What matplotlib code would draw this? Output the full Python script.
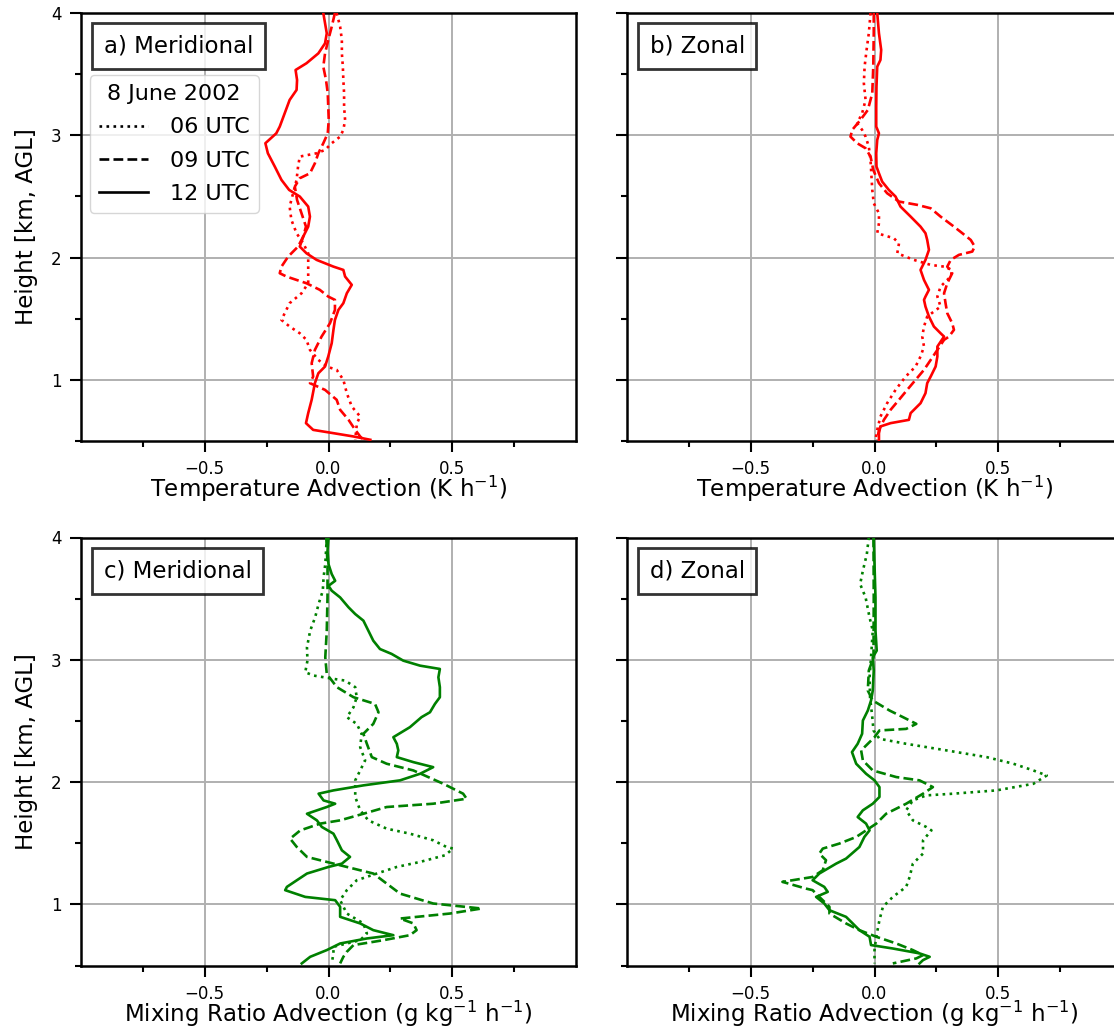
import matplotlib
matplotlib.use("Agg")
import matplotlib.pyplot as plt
from matplotlib.lines import Line2D

# ---------------------------------------------------------------------------
# Profiles of horizontal advection, 8 June 2002 (height in km AGL)
# ---------------------------------------------------------------------------

# a) Meridional temperature advection (K h-1)
ta_mer_06_z = [4.000, 3.888, 3.779, 3.670, 3.561, 3.452, 3.343, 3.234, 3.125, 3.044,
               2.989, 2.935, 2.880, 2.853, 2.826, 2.744, 2.635, 2.526, 2.417, 2.308,
               2.199, 2.117, 2.035, 1.926, 1.790, 1.708, 1.627, 1.545, 1.490, 1.436,
               1.381, 1.327, 1.245, 1.163, 1.109, 1.082, 1.000, 0.891, 0.782, 0.700,
               0.646, 0.591, 0.510]
ta_mer_06_v = [0.033, 0.047, 0.054, 0.054, 0.058, 0.060, 0.063, 0.063, 0.067, 0.060,
               0.047, 0.013, -0.014, -0.048, -0.116, -0.123, -0.129, -0.143, -0.157, -0.150,
               -0.129, -0.102, -0.082, -0.082, -0.082, -0.109, -0.157, -0.177, -0.190, -0.157,
               -0.116, -0.089, -0.075, -0.041, -0.007, 0.033, 0.060, 0.074, 0.094, 0.128,
               0.115, 0.112, 0.108]

ta_mer_09_z = [4.000, 3.888, 3.779, 3.670, 3.561, 3.452, 3.343, 3.234, 3.125, 3.016,
               2.935, 2.853, 2.771, 2.689, 2.649, 2.580, 2.471, 2.362, 2.253, 2.172,
               2.090, 2.008, 1.926, 1.872, 1.845, 1.790, 1.736, 1.681, 1.654, 1.572,
               1.463, 1.354, 1.245, 1.136, 1.027, 0.973, 0.918, 0.837, 0.755, 0.673,
               0.591, 0.537, 0.510]
ta_mer_09_v = [0.026, 0.013, -0.001, -0.014, -0.021, -0.010, -0.003, -0.001, 0.001, -0.003,
               -0.021, -0.041, -0.055, -0.075, -0.116, -0.136, -0.127, -0.109, -0.091, -0.102,
               -0.123, -0.163, -0.190, -0.197, -0.170, -0.089, -0.035, -0.001, 0.026, 0.026,
               0.006, -0.028, -0.055, -0.068, -0.062, -0.075, -0.014, 0.033, 0.047, 0.081,
               0.108, 0.128, 0.142]

ta_mer_12_z = [4.000, 3.834, 3.752, 3.670, 3.589, 3.534, 3.452, 3.371, 3.289, 3.180,
               3.071, 3.016, 2.935, 2.853, 2.744, 2.635, 2.553, 2.499, 2.417, 2.335,
               2.253, 2.172, 2.090, 2.035, 1.981, 1.926, 1.899, 1.845, 1.777, 1.708,
               1.627, 1.572, 1.490, 1.409, 1.300, 1.191, 1.109, 1.054, 0.973, 0.837,
               0.728, 0.646, 0.591, 0.564, 0.537, 0.510]
ta_mer_12_v = [-0.021, -0.007, -0.014, -0.041, -0.089, -0.133, -0.127, -0.129, -0.157, -0.177,
               -0.197, -0.211, -0.255, -0.245, -0.217, -0.190, -0.159, -0.116, -0.082, -0.075,
               -0.082, -0.102, -0.116, -0.089, -0.048, 0.020, 0.060, 0.067, 0.094, 0.074,
               0.060, 0.040, 0.026, 0.020, 0.013, -0.001, -0.014, -0.041, -0.055, -0.068,
               -0.082, -0.091, -0.062, 0.020, 0.101, 0.169]

# b) Zonal temperature advection (K h-1)
ta_zon_06_z = [4.000, 3.834, 3.698, 3.561, 3.425, 3.289, 3.180, 3.098, 3.044, 2.989,
               2.907, 2.798, 2.689, 2.553, 2.444, 2.362, 2.281, 2.199, 2.158, 2.117,
               2.035, 1.981, 1.940, 1.926, 1.899, 1.845, 1.763, 1.681, 1.599, 1.518,
               1.436, 1.354, 1.272, 1.191, 1.109, 1.027, 0.918, 0.809, 0.700, 0.591,
               0.510]
ta_zon_06_v = [-0.016, -0.023, -0.032, -0.040, -0.043, -0.036, -0.050, -0.070, -0.050, -0.036,
               -0.023, -0.016, -0.013, -0.009, -0.003, 0.018, 0.018, 0.011, 0.078, 0.099,
               0.092, 0.159, 0.227, 0.281, 0.314, 0.308, 0.267, 0.254, 0.267, 0.213,
               0.200, 0.193, 0.200, 0.186, 0.166, 0.126, 0.085, 0.051, 0.024, 0.011,
               0.004]

ta_zon_09_z = [4.000, 3.834, 3.561, 3.343, 3.207, 3.125, 3.044, 2.989, 2.935, 2.894,
               2.826, 2.717, 2.608, 2.526, 2.458, 2.431, 2.403, 2.335, 2.253, 2.199,
               2.144, 2.090, 2.049, 2.022, 1.981, 1.926, 1.872, 1.790, 1.708, 1.627,
               1.545, 1.463, 1.409, 1.354, 1.327, 1.245, 1.163, 1.082, 1.000, 0.918,
               0.837, 0.755, 0.673, 0.591, 0.510]
ta_zon_09_v = [-0.003, -0.003, -0.005, -0.009, -0.027, -0.057, -0.090, -0.097, -0.070, -0.036,
               -0.016, -0.005, 0.018, 0.051, 0.099, 0.173, 0.227, 0.267, 0.321, 0.355,
               0.389, 0.405, 0.395, 0.341, 0.308, 0.294, 0.314, 0.294, 0.281, 0.287,
               0.294, 0.314, 0.321, 0.301, 0.281, 0.254, 0.227, 0.200, 0.166, 0.132,
               0.099, 0.065, 0.038, 0.018, 0.011]

ta_zon_12_z = [4.000, 3.834, 3.698, 3.616, 3.561, 3.398, 3.234, 3.071, 3.016, 2.962,
               2.853, 2.744, 2.689, 2.621, 2.553, 2.499, 2.417, 2.335, 2.253, 2.199,
               2.144, 2.063, 1.981, 1.899, 1.817, 1.736, 1.681, 1.654, 1.599, 1.518,
               1.436, 1.381, 1.354, 1.272, 1.191, 1.109, 1.027, 0.973, 0.891, 0.809,
               0.728, 0.673, 0.646, 0.619, 0.564, 0.510]
ta_zon_12_v = [0.011, 0.018, 0.027, 0.024, 0.011, 0.008, 0.007, 0.007, 0.018, 0.011,
               0.007, 0.008, 0.018, 0.031, 0.058, 0.085, 0.105, 0.146, 0.186, 0.206,
               0.213, 0.220, 0.206, 0.186, 0.200, 0.220, 0.206, 0.200, 0.206, 0.220,
               0.240, 0.267, 0.281, 0.254, 0.254, 0.247, 0.227, 0.213, 0.206, 0.186,
               0.146, 0.139, 0.065, 0.024, 0.018, 0.018]

# c) Meridional mixing ratio advection (g kg-1 h-1)
qa_mer_06_z = [4.000, 3.782, 3.673, 3.565, 3.456, 3.347, 3.238, 3.102, 2.993, 2.898,
               2.871, 2.844, 2.830, 2.776, 2.694, 2.612, 2.531, 2.476, 2.395, 2.286,
               2.177, 2.095, 2.014, 1.878, 1.769, 1.687, 1.619, 1.578, 1.524, 1.469,
               1.456, 1.401, 1.347, 1.306, 1.252, 1.197, 1.116, 1.034, 0.925, 0.844,
               0.762, 0.707, 0.653, 0.599, 0.517]
qa_mer_06_v = [-0.007, -0.013, -0.020, -0.023, -0.040, -0.054, -0.074, -0.087, -0.085, -0.094,
               -0.060, 0.020, 0.067, 0.108, 0.114, 0.101, 0.074, 0.114, 0.134, 0.128,
               0.148, 0.128, 0.108, 0.108, 0.128, 0.161, 0.235, 0.329, 0.423, 0.477,
               0.504, 0.470, 0.370, 0.276, 0.195, 0.114, 0.074, 0.047, 0.074, 0.141,
               0.155, 0.128, 0.020, 0.020, 0.013]

qa_mer_09_z = [4.000, 3.782, 3.510, 3.238, 3.020, 2.884, 2.776, 2.694, 2.639, 2.571,
               2.476, 2.395, 2.313, 2.204, 2.150, 2.095, 1.986, 1.905, 1.864, 1.823,
               1.796, 1.741, 1.687, 1.660, 1.605, 1.537, 1.469, 1.388, 1.347, 1.306,
               1.252, 1.170, 1.088, 1.007, 0.966, 0.925, 0.884, 0.844, 0.789, 0.748,
               0.707, 0.667, 0.612, 0.571, 0.517]
qa_mer_09_v = [-0.009, -0.004, -0.004, -0.007, -0.013, -0.007, 0.034, 0.101, 0.188, 0.202,
               0.181, 0.141, 0.155, 0.175, 0.235, 0.343, 0.464, 0.544, 0.558, 0.423,
               0.235, 0.141, 0.047, -0.034, -0.114, -0.155, -0.128, -0.087, -0.007, 0.074,
               0.181, 0.235, 0.289, 0.423, 0.618, 0.491, 0.289, 0.343, 0.356, 0.329,
               0.222, 0.101, 0.074, 0.060, 0.047]

qa_mer_12_z = [4.000, 3.891, 3.782, 3.701, 3.646, 3.605, 3.565, 3.510, 3.429, 3.374,
               3.320, 3.238, 3.156, 3.088, 3.048, 2.993, 2.952, 2.925, 2.857, 2.776,
               2.694, 2.639, 2.571, 2.531, 2.449, 2.367, 2.313, 2.259, 2.204, 2.163,
               2.122, 2.068, 2.014, 1.973, 1.932, 1.905, 1.850, 1.823, 1.796, 1.741,
               1.687, 1.633, 1.578, 1.524, 1.442, 1.388, 1.333, 1.306, 1.252, 1.197,
               1.143, 1.116, 1.061, 1.034, 0.980, 0.898, 0.844, 0.789, 0.748, 0.721,
               0.680, 0.626, 0.571, 0.517]
qa_mer_12_v = [0.000, -0.004, 0.000, 0.013, 0.027, 0.000, 0.013, 0.047, 0.081, 0.108,
               0.141, 0.161, 0.181, 0.208, 0.255, 0.302, 0.370, 0.450, 0.444, 0.450,
               0.450, 0.430, 0.410, 0.376, 0.329, 0.262, 0.276, 0.282, 0.276, 0.343,
               0.423, 0.370, 0.289, 0.141, 0.020, -0.040, -0.020, 0.027, -0.007, -0.087,
               -0.047, -0.027, 0.020, 0.034, 0.054, 0.087, 0.054, 0.000, -0.087, -0.128,
               -0.168, -0.175, -0.094, 0.027, 0.047, 0.047, 0.128, 0.181, 0.262, 0.155,
               0.047, -0.007, -0.074, -0.108]

# d) Zonal mixing ratio advection (g kg-1 h-1)
qa_zon_06_z = [4.000, 3.864, 3.728, 3.619, 3.510, 3.347, 3.238, 3.020, 2.857, 2.694,
               2.531, 2.422, 2.354, 2.313, 2.259, 2.204, 2.150, 2.095, 2.054, 1.986,
               1.932, 1.905, 1.891, 1.850, 1.769, 1.687, 1.633, 1.605, 1.524, 1.415,
               1.333, 1.224, 1.143, 1.061, 0.980, 0.871, 0.735, 0.626, 0.517]
qa_zon_06_v = [-0.023, -0.031, -0.047, -0.058, -0.036, -0.020, -0.007, -0.014, -0.020, -0.018,
               -0.009, -0.004, 0.020, 0.128, 0.291, 0.453, 0.561, 0.642, 0.696, 0.642,
               0.493, 0.318, 0.209, 0.155, 0.128, 0.155, 0.209, 0.230, 0.196, 0.196,
               0.155, 0.142, 0.128, 0.074, 0.034, 0.020, 0.007, 0.000, 0.000]

qa_zon_09_z = [4.000, 3.510, 3.020, 2.912, 2.748, 2.667, 2.585, 2.531, 2.476, 2.435,
               2.422, 2.367, 2.259, 2.177, 2.095, 2.041, 2.014, 1.959, 1.905, 1.823,
               1.741, 1.660, 1.551, 1.497, 1.456, 1.415, 1.361, 1.279, 1.224, 1.184,
               1.129, 1.116, 1.061, 0.980, 0.925, 0.844, 0.789, 0.735, 0.680, 0.626,
               0.585, 0.558, 0.517]
qa_zon_09_v = [-0.004, -0.003, -0.004, -0.023, -0.027, -0.007, 0.061, 0.115, 0.169, 0.128,
               0.020, 0.000, -0.054, -0.047, -0.007, 0.088, 0.182, 0.236, 0.196, 0.128,
               0.047, 0.007, -0.074, -0.142, -0.209, -0.223, -0.196, -0.209, -0.250, -0.372,
               -0.277, -0.250, -0.223, -0.182, -0.182, -0.115, -0.061, 0.007, 0.088, 0.155,
               0.196, 0.169, 0.074]

qa_zon_12_z = [4.000, 3.782, 3.510, 3.238, 3.075, 3.020, 2.912, 2.748, 2.667, 2.585,
               2.503, 2.395, 2.313, 2.245, 2.150, 2.068, 2.014, 1.959, 1.878, 1.823,
               1.769, 1.714, 1.660, 1.605, 1.551, 1.469, 1.374, 1.333, 1.252, 1.197,
               1.143, 1.102, 1.061, 1.007, 0.952, 0.898, 0.844, 0.789, 0.735, 0.667,
               0.639, 0.599, 0.571, 0.544, 0.517]
qa_zon_12_v = [-0.003, 0.000, 0.004, 0.004, 0.009, -0.007, -0.003, -0.007, -0.014, -0.027,
               -0.047, -0.050, -0.068, -0.091, -0.074, -0.034, 0.000, 0.020, 0.020, -0.007,
               -0.047, -0.068, -0.034, -0.020, -0.041, -0.061, -0.115, -0.155, -0.223, -0.250,
               -0.203, -0.189, -0.236, -0.203, -0.182, -0.115, -0.088, -0.061, -0.020, -0.014,
               0.074, 0.182, 0.223, 0.196, 0.182]

# Axis annotations
time_labels = ["06 UTC", "09 UTC", "12 UTC"]
legend_title = "8 June 2002"
panel_titles = ["a) Meridional", "b) Zonal", "c) Meridional", "d) Zonal"]
xlabels = [r"Temperature Advection (K h$^{-1}$)",
           r"Mixing Ratio Advection (g kg$^{-1}$ h$^{-1}$)"]
ylabel = "Height [km, AGL]"
x_major = [-0.5, 0.0, 0.5]
x_minor = [-0.75, -0.25, 0.25, 0.75]
y_major = [1, 2, 3, 4]
y_minor = [0.5, 1.5, 2.5, 3.5]

styles = [":", "--", "-"]

panels = [
    dict(title=panel_titles[0], color="red", xlabel=xlabels[0], left=True,
         series=[(ta_mer_06_v, ta_mer_06_z), (ta_mer_09_v, ta_mer_09_z), (ta_mer_12_v, ta_mer_12_z)]),
    dict(title=panel_titles[1], color="red", xlabel=xlabels[0], left=False,
         series=[(ta_zon_06_v, ta_zon_06_z), (ta_zon_09_v, ta_zon_09_z), (ta_zon_12_v, ta_zon_12_z)]),
    dict(title=panel_titles[2], color="green", xlabel=xlabels[1], left=True,
         series=[(qa_mer_06_v, qa_mer_06_z), (qa_mer_09_v, qa_mer_09_z), (qa_mer_12_v, qa_mer_12_z)]),
    dict(title=panel_titles[3], color="green", xlabel=xlabels[1], left=False,
         series=[(qa_zon_06_v, qa_zon_06_z), (qa_zon_09_v, qa_zon_09_z), (qa_zon_12_v, qa_zon_12_z)]),
]

W, H = 1114, 1030
fig = plt.figure(figsize=(W / 100, H / 100), dpi=100)

ax_w, ax_h = 495 / W, 428 / H
lefts = [81 / W, 627 / W]
bottoms = [(H - 441) / H, (H - 965.5) / H]

for i, p in enumerate(panels):
    ax = fig.add_axes([lefts[i % 2], bottoms[i // 2], ax_w, ax_h])
    for (v, z), ls in zip(p["series"], styles):
        ax.plot(v, z, color=p["color"], ls=ls, lw=1.9, zorder=3)

    ax.set_xlim(-1, 1)
    ax.set_ylim(0.5, 4)
    ax.set_xticks(x_major)
    ax.set_xticks(x_minor, minor=True)
    ax.set_yticks(y_major)
    ax.set_yticks(y_minor, minor=True)
    ax.grid(True, which="major", color="#b0b0b0", lw=1.4, zorder=0)
    ax.set_axisbelow(True)
    for sp in ax.spines.values():
        sp.set_linewidth(1.8)
    ax.tick_params(which="major", length=8, width=1.5, labelsize=12, pad=6)
    ax.tick_params(which="minor", length=4.5, width=1.5)
    ax.set_xlabel(p["xlabel"], fontsize=16.5, labelpad=-3)
    if p["left"]:
        ax.set_ylabel(ylabel, fontsize=16.5, labelpad=9)
    else:
        ax.tick_params(axis="y", labelleft=False)

    ax.text(0.046, 0.949, p["title"], transform=ax.transAxes, fontsize=16.5,
            ha="left", va="top", zorder=5,
            bbox=dict(boxstyle="square,pad=0.5", facecolor="white",
                      edgecolor="black", alpha=0.8, linewidth=2))

    if i == 0:
        handles = [Line2D([], [], color="black", ls=ls, lw=1.9) for ls in styles]
        ax.legend(handles, time_labels, title=legend_title, loc="upper left",
                  bbox_to_anchor=(0.018, 0.855), borderaxespad=0, fontsize=16,
                  title_fontsize=16, handlelength=2.2, handletextpad=1.0,
                  labelspacing=0.6)

fig.savefig("out.png", dpi=100)
